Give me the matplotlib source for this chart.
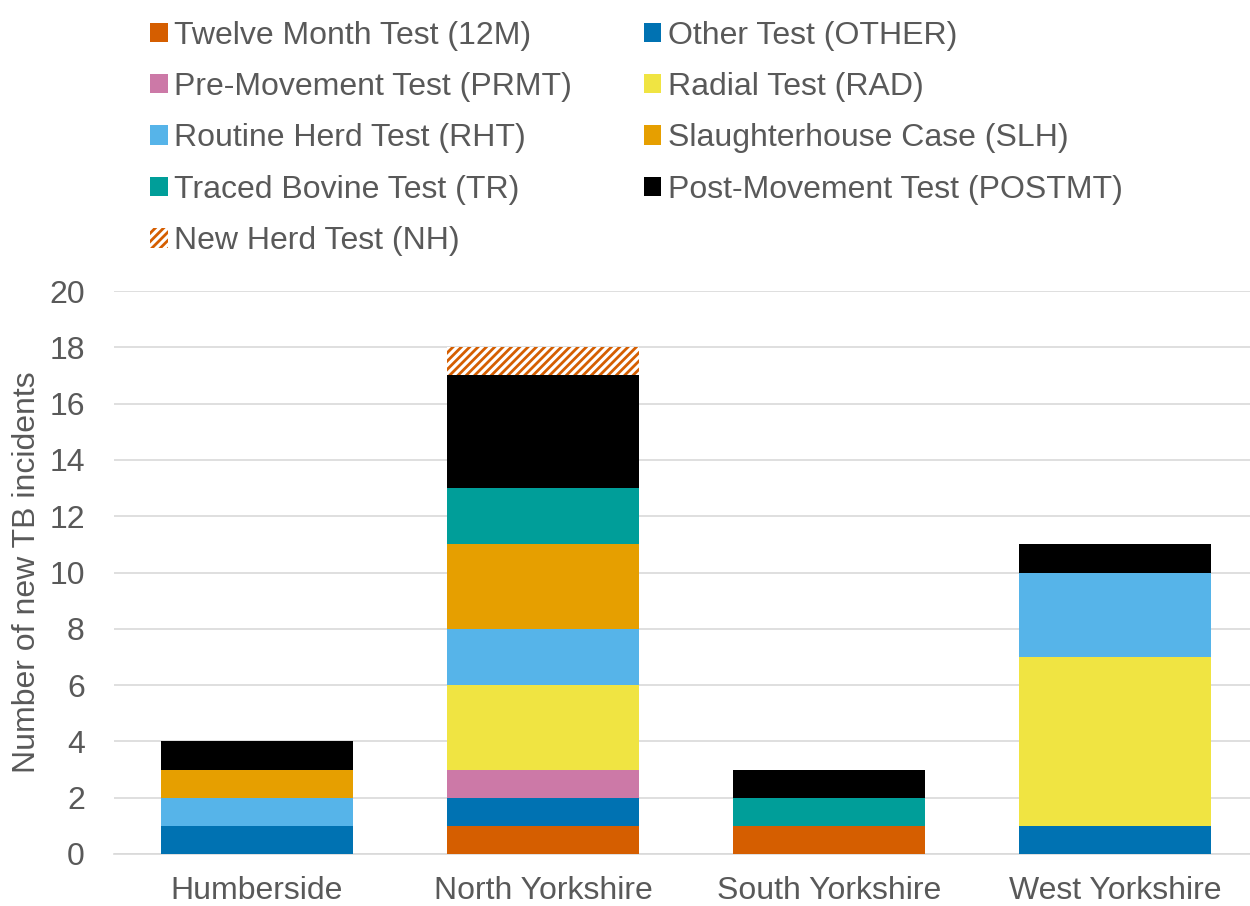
import matplotlib
matplotlib.use("Agg")
import matplotlib.pyplot as plt
import numpy as np

plt.rcParams['font.family'] = ['Liberation Sans', 'DejaVu Sans']
plt.rcParams['hatch.linewidth'] = 2.0

regions = ["Humberside", "North Yorkshire", "South Yorkshire", "West Yorkshire"]
series_names = ["Twelve Month Test (12M)", "Other Test (OTHER)", "Pre-Movement Test (PRMT)",
                "Radial Test (RAD)", "Routine Herd Test (RHT)", "Slaughterhouse Case (SLH)",
                "Traced Bovine Test (TR)", "Post-Movement Test (POSTMT)", "New Herd Test (NH)"]
v_12m = [0, 1, 1, 0]
v_other = [1, 1, 0, 1]
v_prmt = [0, 1, 0, 0]
v_rad = [0, 3, 0, 6]
v_rht = [1, 2, 0, 3]
v_slh = [1, 3, 0, 0]
v_tr = [0, 2, 1, 0]
v_postmt = [1, 4, 1, 1]
v_nh = [0, 1, 0, 0]
values = [v_12m, v_other, v_prmt, v_rad, v_rht, v_slh, v_tr, v_postmt, v_nh]
colors = ["#D55E00", "#0072B2", "#CC79A7", "#F0E442", "#56B4E9", "#E69F00", "#009E99", "#000000", "#D55E00"]

fig = plt.figure(figsize=(12.5, 9.06), dpi=100)
ax = fig.add_axes([0.0912, 0.0574, 0.9152, 0.6214])

x = np.arange(len(regions))
bottom = np.zeros(len(regions))
handles = []
for name, vals, c in zip(series_names, values, colors):
    vals = np.array(vals, dtype=float)
    if name.endswith("(NH)"):
        h = ax.bar(x, vals, 0.67, bottom=bottom, facecolor="white", edgecolor=c,
                   hatch="////", linewidth=0, label=name, zorder=3)
    else:
        h = ax.bar(x, vals, 0.67, bottom=bottom, color=c, label=name, zorder=3, linewidth=0)
    handles.append(h)
    bottom += vals

ax.set_xlim(-0.5, 3.5)
ax.set_ylim(0, 20)
ax.set_yticks(range(0, 21, 2))
ax.set_xticks(x)
ax.set_xticklabels(regions)
ax.grid(axis='y', color='#D9D9D9', linewidth=1.2, zorder=0)
for s in ['top', 'right', 'left']:
    ax.spines[s].set_visible(False)
ax.spines['bottom'].set_color('#D9D9D9')
ax.spines['bottom'].set_linewidth(1.2)
ax.tick_params(axis='both', length=0, labelsize=23, colors='#595959')
ax.tick_params(axis='x', pad=16)
ax.tick_params(axis='y', pad=21)
ax.set_ylabel("Number of new TB incidents", fontsize=23, color='#595959')
ax.yaxis.set_label_coords(-0.063, 0.5)

# legend row-major order in 2 columns
order = [0, 2, 4, 6, 8, 1, 3, 5, 7]
leg = fig.legend([handles[i] for i in order], [series_names[i] for i in order],
                 ncol=2, loc='upper left', bbox_to_anchor=(0.097, 1.009), frameon=False,
                 fontsize=23, handlelength=0.55, handleheight=0.55, handletextpad=0.2,
                 columnspacing=2.25, labelspacing=0.67, labelcolor='#595959')

fig.savefig("out.png", dpi=100)
